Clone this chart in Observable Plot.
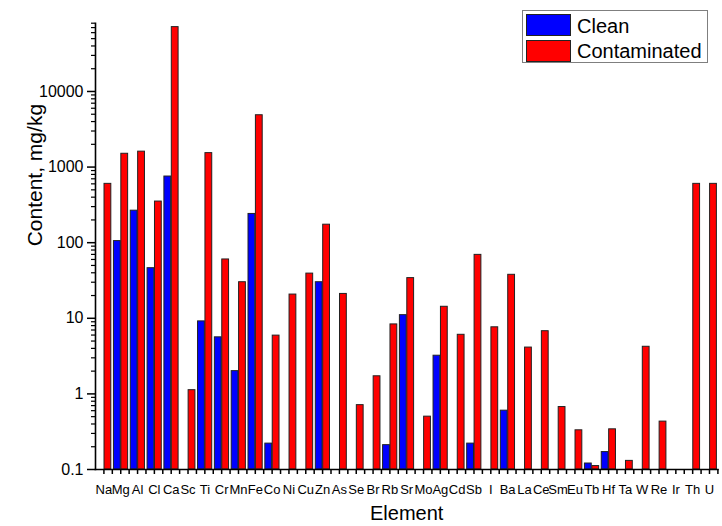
<!DOCTYPE html>
<html>
<head>
<meta charset="utf-8">
<script src="https://cdn.jsdelivr.net/npm/d3@7"></script>
<script src="https://cdn.jsdelivr.net/npm/@observablehq/plot@0.6"></script>
<style>
  html, body { margin: 0; padding: 0; background: #fff; }
  #wrap { position: relative; width: 722px; height: 526px; }
  #legend { position: absolute; left: 522px; top: 10px; width: 186px; height: 53px; box-sizing: border-box;
            border: 1px solid #7f7f7f; background: #fff; font-family: "Liberation Sans", Arial, sans-serif; font-size: 20px; color: #000; }
  #legend .sw { position: absolute; left: 3px; width: 45px; height: 22px; box-sizing: border-box; border: 1px solid #222; }
  #legend .lb { position: absolute; left: 54px; line-height: 1; white-space: nowrap; }
</style>
</head>
<body>
<div id="wrap"></div>
<script>
// ---- data ----
const elements = ["Na","Mg","Al","Cl","Ca","Sc","Ti","Cr","Mn","Fe","Co","Ni","Cu","Zn","As","Se","Br","Rb","Sr","Mo","Ag","Cd","Sb","I","Ba","La","Ce","Sm","Eu","Tb","Hf","Ta","W","Re","Ir","Th","U"];
const clean = [null,105,265,46,750,null,9.1,5.6,2.0,240,0.22,null,null,30,null,null,null,0.21,11,null,3.2,null,0.22,null,0.6,null,null,null,null,0.12,0.17,null,null,null,null,null,null];
const contaminated = [600,1500,1600,350,71000,1.12,1530,60,30,4850,5.9,20.6,39,173,21,0.71,1.71,8.3,34,0.5,14.2,6.05,69,7.6,37.6,4.1,6.75,0.67,0.33,0.111,0.34,0.13,4.2,0.43,null,600,600];
const series = ["Clean", "Contaminated"];
const seriesColors = ["#0000ff", "#ff0000"];
const yMajorTicks = [0.1, 1, 10, 100, 1000, 10000];
const yDomain = [0.1, 80000];

// ---- build rows ----
const cleanRows = elements.map((e, i) => ({element: e, value: clean[i]})).filter(d => d.value != null);
const contRows = elements.map((e, i) => ({element: e, value: contaminated[i]})).filter(d => d.value != null);
const yMinorTicks = yMajorTicks.flatMap(t => [2,3,4,5,6,7,8,9].map(k => t * k)).filter(v => v <= yDomain[1]);

const W = 722, H = 526, ML = 95, MR = 4.6, MT = 22.7, MB = 57;
const bw = (W - ML - MR) / elements.length;

const font = '"Liberation Sans", Arial, sans-serif';
const chart = Plot.plot({
  width: W, height: H,
  marginLeft: ML, marginRight: MR, marginTop: MT, marginBottom: MB,
  style: {fontFamily: font, fontSize: "16px", color: "#000", background: "#fff"},
  x: {type: "band", domain: elements, padding: 0, label: null},
  y: {type: "log", domain: yDomain, label: null},
  marks: [
    Plot.barY(cleanRows, {x: "element", y1: yDomain[0], y2: "value", fill: seriesColors[0], stroke: "#222", strokeWidth: 1, insetLeft: bw/2 - 6.8, insetRight: bw/2}),
    Plot.barY(contRows, {x: "element", y1: yDomain[0], y2: "value", fill: seriesColors[1], stroke: "#222", strokeWidth: 1, insetLeft: bw/2 + 0.6, insetRight: bw/2 - 7.4}),
    Plot.frame({anchor: "left", stroke: "#000", strokeWidth: 1.6}),
    Plot.frame({anchor: "bottom", stroke: "#000", strokeWidth: 1.6}),
    Plot.axisY(yMajorTicks, {tickSize: 8, tickPadding: 4, strokeWidth: 1.5, fontSize: 16, tickFormat: d => String(d), label: null}),
    Plot.axisY(yMinorTicks, {tickSize: 4, strokeWidth: 1.2, tickFormat: () => "", label: null}),
    Plot.axisX(elements, {tickSize: 5, tickPadding: 10, strokeWidth: 1.5, fontSize: 13, label: null}),
    Plot.axisX(elements, {tickSize: 5, strokeWidth: 1.5, dx: bw/2, tickFormat: () => "", label: null}),
    Plot.text(["Content, mg/kg"], {frameAnchor: "left", dx: -60, rotate: -90, fontSize: 21, fill: "#000"}),
    Plot.text(["Element"], {frameAnchor: "bottom", dy: 50, fontSize: 20, fill: "#000"})
  ]
});
const wrap = document.getElementById("wrap");
wrap.appendChild(chart);

// ---- legend ----
const legend = document.createElement("div");
legend.id = "legend";
const baselines = [21.7, 46.7];
const swTops = [3.3, 29];
series.forEach((s, i) => {
  const sw = document.createElement("div");
  sw.className = "sw";
  sw.style.top = swTops[i] + "px";
  sw.style.background = seriesColors[i];
  legend.appendChild(sw);
  const lb = document.createElement("div");
  lb.className = "lb";
  lb.style.top = (baselines[i] - 17.0) + "px";
  lb.textContent = s;
  legend.appendChild(lb);
});
wrap.appendChild(legend);
</script>
</body>
</html>
